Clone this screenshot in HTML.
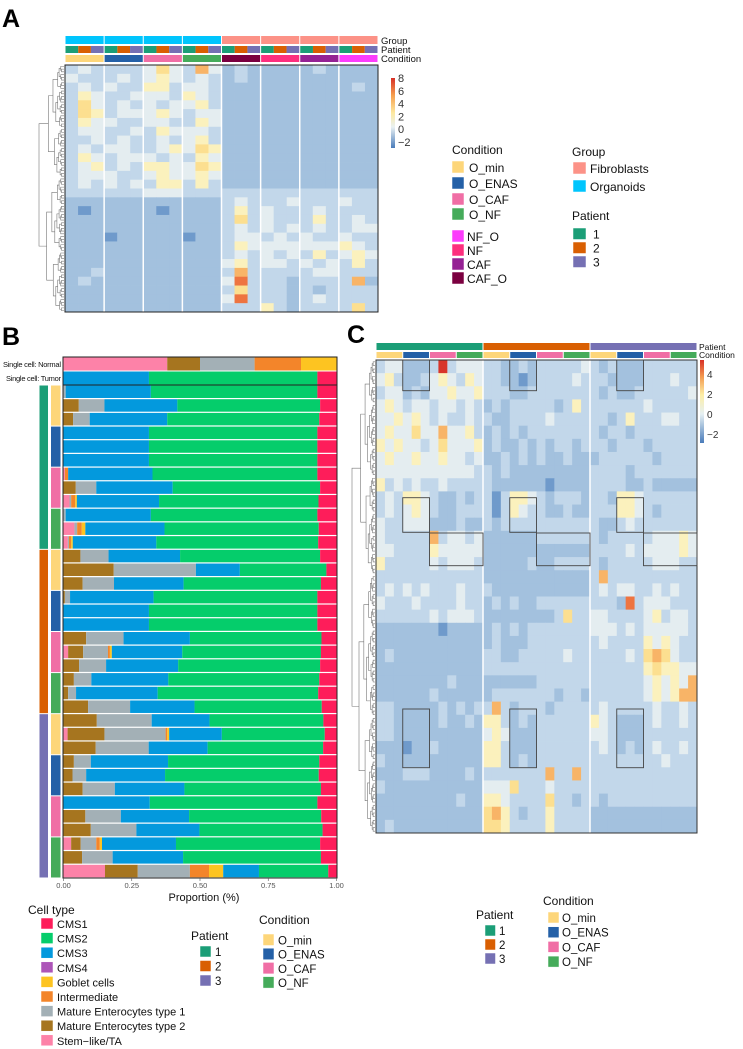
<!DOCTYPE html>
<html><head><meta charset="utf-8">
<style>
html,body{margin:0;padding:0;background:#fff;}
svg{display:block;font-family:"Liberation Sans",sans-serif;}
</style></head>
<body>
<svg id="fig" width="743" height="1049" viewBox="0 0 743 1049" xmlns="http://www.w3.org/2000/svg">
<defs>
<linearGradient id="cbA" x1="0" y1="0" x2="0" y2="1">
<stop offset="0" stop-color="#d73027"/><stop offset="0.25" stop-color="#f6a04f"/><stop offset="0.5" stop-color="#fde9a0"/><stop offset="0.7" stop-color="#e9f1f2"/><stop offset="1" stop-color="#4a7cba"/>
</linearGradient>
<linearGradient id="cbC" x1="0" y1="0" x2="0" y2="1">
<stop offset="0" stop-color="#d73027"/><stop offset="0.2" stop-color="#f39a50"/><stop offset="0.42" stop-color="#fdeea5"/><stop offset="0.65" stop-color="#e6f0f3"/><stop offset="1" stop-color="#4a7cba"/>
</linearGradient>
</defs>
<text x="2" y="27" font-size="25" font-weight="bold">A</text>
<text x="2" y="345" font-size="25" font-weight="bold">B</text>
<text x="347" y="343" font-size="25" font-weight="bold">C</text>
<g id="gA"></g>
<g id="gB"></g>
<g id="gC"></g>
<g id="gL"></g>
</svg>
<script>
// ---------- DATA ----------
const heatAColumns = ["O_min","O_ENAS","O_CAF","O_NF","CAF_O","NF","CAF","NF_O"];
const heatARows = [
"232222353263121111121111",
"322232343232121111111111",
"232322442332111111111121",
"243223332432111111111111",
"253232323342111111111111",
"254233343233111111111111",
"243322332243111111111111",
"233223243332111111111111",
"223232232342111111111111",
"232332234354111111111111",
"243233323243111111111111",
"234232443354111111111111",
"233322343343111111111111",
"232323244242111111111111",
"222222333222222222222222",
"111111111111232223222322",
"101111101111242322232222",
"111111111111252322242232",
"111111111111232323232233",
"111011111011233232322322",
"111111111111243333333432",
"111111111111232323242343",
"111111111111342332323242",
"112111111111262222233222",
"121111111111372221222261",
"111111111111252221212222",
"111111111111372221232222",
"111111111111222421222252"];
const heatCRows = [
"233111282333221121222223212111222222",
"342112343243221101222232221111222322",
"233121334334222112222222212112222223",
"343233233232121222221242222222322222",
"334343232232211222232222221242223322",
"343353363342121212222222212212222222",
"434332353334121121212212221222122222",
"343343343323112121211211122222212222",
"333333333332212111111111222212222222",
"423232232222211111101111222211211111",
"232443211212202443212221221443222222",
"232343211222202432211211222443212222",
"322333111211212222222222211232222222",
"322222623323111111222222212222233343",
"332222433333111111111111222232333343",
"422222323332111112112222212222233322",
"222222222222111111111111262222222222",
"232323222322211111111111232332232322",
"322232222322121211222222222172333222",
"222222323332111111112522332222342332",
"111111101111121212222222333232333332",
"111111111111121112222222232222434322",
"121111111111221122222322222232565322",
"111111111111222222222222222222454433",
"111111112111111111222222222222343436",
"111111211111122222221221222222343466",
"221111121212262122212222232222232232",
"221111121121442121222222432111232232",
"221111111111343111222222332111222222",
"111011211111442111222222232121232232",
"211111111111442121222222222222223222",
"111222111121222222262262222222222222",
"211111111111333522232222222222222222",
"111111111211443222252212212222222222",
"111111111111564212242222111111111111",
"121111111111554222242222111111111111"];
const cellTypes = ["Stem-like/TA","Mature Enterocytes type 2","Mature Enterocytes type 1","Intermediate","Goblet cells","CMS3","CMS2","CMS1"];
const barLabels = ["Single cell: Normal","Single cell: Tumor"];
const cumNormal = [.38,.5,.7,.87,1,1,1,1];
const cumTumor = [0,0,0,0,0,.313,.93,1];
const cumSamples = [
[0,0,.008,.008,.008,.32,.93,1],
[0,.056,.15,.15,.15,.417,.94,1],
[0,.035,.096,.096,.096,.38,.937,1],
[0,0,0,0,0,.313,.93,1],
[0,0,0,0,0,.313,.93,1],
[0,0,0,0,0,.313,.93,1],
[.005,.005,.005,.017,.017,.326,.93,1],
[0,.045,.12,.12,.12,.4,.94,1],
[.022,.022,.028,.043,.049,.35,.934,1],
[0,0,.008,.008,.008,.32,.93,1],
[.04,.04,.05,.067,.08,.37,.935,1],
[.016,.016,.02,.028,.034,.34,.933,1],
[0,.062,.165,.165,.165,.427,.94,1],
[0,.184,.485,.485,.485,.646,.963,1],
[0,.07,.185,.185,.185,.44,.943,1],
[0,.005,.024,.024,.024,.33,.93,1],
[0,0,0,0,0,.313,.93,1],
[0,0,0,0,0,.313,.93,1],
[0,.083,.22,.22,.22,.463,.945,1],
[.017,.072,.163,.17,.177,.435,.943,1],
[0,.057,.156,.156,.156,.42,.94,1],
[0,.038,.102,.102,.102,.384,.937,1],
[0,.017,.046,.046,.046,.345,.933,1],
[0,.09,.244,.244,.244,.48,.946,1],
[0,.122,.323,.323,.323,.535,.952,1],
[.015,.15,.374,.38,.387,.58,.957,1],
[0,.118,.312,.312,.312,.528,.951,1],
[0,.038,.1,.1,.1,.383,.937,1],
[0,.033,.083,.083,.083,.372,.935,1],
[0,.07,.188,.188,.188,.443,.943,1],
[0,0,0,0,0,.316,.93,1],
[0,.08,.21,.21,.21,.46,.944,1],
[0,.1,.267,.267,.267,.498,.949,1],
[.028,.063,.12,.133,.141,.412,.94,1],
[0,.068,.18,.18,.18,.438,.943,1],
[.152,.272,.463,.533,.585,.716,.97,1]];
const xTicks = [0,0.25,0.5,0.75,1];
const xTickLabels = ["0.00","0.25","0.50","0.75","1.00"];
const cbATicks = ["8","6","4","2","0","\u22122"];
const cbCTicks = ["4","2","0","\u22122"];

// ---------- STYLE ----------
const NS="http://www.w3.org/2000/svg";
const cellCol=["#6f9acb","#a3c1de","#c2d7ea","#e4edf0","#fbf1bd","#fcdf90","#f8b467","#ee7440","#d8352a"];
const segCol=["#fd82a8","#a6751f","#a3b0b6","#f3852a","#fdc421","#0399dd","#05cd6b","#fe1d5a"];
const condCol={O_min:"#fdd67a",O_ENAS:"#2460a7",O_CAF:"#f06ea5",O_NF:"#45ab5a",NF_O:"#fc3cfc",NF:"#fd2f7e",CAF:"#952194",CAF_O:"#7b0040"};
const patCol=["#1b9e77","#d95f02","#7570b3"];
function mk(parent,tag,attrs){const e=document.createElementNS(NS,tag);for(const k in attrs)e.setAttribute(k,attrs[k]);parent.appendChild(e);return e;}
function txt(parent,x,y,s,size,attrs){const t=mk(parent,"text",Object.assign({x:x,y:y,"font-size":size,fill:"#111"},attrs||{}));t.textContent=s;return t;}

function dendro(g,y0,y1,n,xLeaf,xRoot){
  function build(lo,hi,d){
    if(hi-lo===1)return {y:y0+(lo+0.5)*(y1-y0)/n,x:xLeaf};
    const f=[0.45,0.55,0.38,0.62,0.5][d%5];
    let m=lo+Math.max(1,Math.min(hi-lo-1,Math.round((hi-lo)*f)));
    const a=build(lo,m,d+1),b=build(m,hi,d+1);
    const x=xLeaf-(xLeaf-xRoot)*Math.pow((hi-lo)/n,0.6);
    mk(g,"path",{d:`M${a.x},${a.y}H${x}V${b.y}H${b.x}`,fill:"none",stroke:"#777","stroke-width":0.6});
    return {y:(a.y+b.y)/2,x:x};
  }
  build(0,n,0);
}

// ---------- PANEL A ----------
(function(){
  const g=document.getElementById("gA");
  const X0=65,X1=378,Y0=65,Y1=312;
  const nb=heatAColumns.length, bw=(X1-X0)/nb;
  const nr=heatARows.length, rh=(Y1-Y0)/nr;
  const ncol=heatARows[0].length, cw=(X1-X0)/ncol;
  heatARows.forEach((row,r)=>{
    for(let c=0;c<ncol;c++){
      const cell=mk(g,"rect",{x:X0+c*cw,y:Y0+r*rh,width:cw+0.4,height:rh+0.4,fill:cellCol[+row[c]]});
      
      
    }
  });
  for(let b=1;b<nb;b++){mk(g,"line",{x1:X0+b*bw,x2:X0+b*bw,y1:Y0,y2:Y1,stroke:"#fff","stroke-width":1.5});}
  mk(g,"rect",{x:X0,y:Y0,width:X1-X0,height:Y1-Y0,fill:"none",stroke:"#222","stroke-width":1,});
  heatAColumns.forEach((cond,b)=>{
    const bx=X0+b*bw+0.5, w=bw-1;
    const gr=mk(g,"rect",{x:bx,y:36,width:w,height:8,fill:b<4?"#00c5fd":"#fc9287"});
    
    for(let p=0;p<3;p++){const pr=mk(g,"rect",{x:bx+p*w/3,y:46,width:w/3,height:7,fill:patCol[p]});
      }
    const cr=mk(g,"rect",{x:bx,y:55,width:w,height:7,fill:condCol[cond]});
    
  });
  txt(g,381,44,"Group",9.5,{});
  txt(g,381,53,"Patient",9.5,{});
  txt(g,381,62,"Condition",9.5,{});
  const dg=mk(g,"g",{});
  dendro(dg,Y0,Y1,90,64,39);
  mk(g,"rect",{x:391,y:78,width:4,height:70,fill:"url(#cbA)",});
  cbATicks.forEach((t,i)=>txt(g,398,82+i*12.8,t,11,{fill:"#333",}));
})();

// ---------- PANEL B ----------
(function(){
  const g=document.getElementById("gB");
  const X0=63.5,W=273;
  const x=v=>X0+v*W;
  function drawRow(cum,y,h,name){
    let prev=0;
    cum.forEach((c,i)=>{
      if(c>prev){const r=mk(g,"rect",{x:x(prev),y:y,width:x(c)-x(prev),height:h,fill:segCol[i]});
        
        }
      prev=c;
    });
  }
  drawRow(cumNormal,357.5,13,"bar-normal");
  drawRow(cumTumor,371.5,13,"bar-tumor");
  const RY=385, RH=(878-385)/cumSamples.length;
  cumSamples.forEach((cum,i)=>drawRow(cum,RY+i*RH+0.5,RH-1.2,"bar-sample-"+(i+1)));
  mk(g,"rect",{x:63,y:357,width:274,height:521,fill:"none",stroke:"#222","stroke-width":1,});
  mk(g,"line",{x1:63,x2:337,y1:385,y2:385,stroke:"#222","stroke-width":1});
  txt(g,61,367,barLabels[0],7.5,{"text-anchor":"end","textLength":58,});
  txt(g,61,381,barLabels[1],7.5,{"text-anchor":"end","textLength":55,});
  const conds=["O_min","O_ENAS","O_CAF","O_NF"];
  for(let p=0;p<3;p++){
    const pr=mk(g,"rect",{x:39.5,y:RY+p*12*RH+0.5,width:8.5,height:12*RH-1,fill:patCol[p]});
    
    for(let c=0;c<4;c++){
      const cr=mk(g,"rect",{x:51,y:RY+(p*12+c*3)*RH+0.5,width:9.5,height:3*RH-1,fill:condCol[conds[c]]});
      
    }
  }
  xTicks.forEach((t,i)=>{
    mk(g,"line",{x1:x(t),x2:x(t),y1:878,y2:881,stroke:"#555","stroke-width":0.6});
    txt(g,x(t),888,xTickLabels[i],7.5,{fill:"#555","text-anchor":"middle",});
  });
  txt(g,204,901,"Proportion (%)",11,{"text-anchor":"middle",});
})();

// ---------- PANEL C ----------
(function(){
  const g=document.getElementById("gC");
  const X0=376,X1=697,Y0=360,Y1=833;
  const nr=heatCRows.length, rh=(Y1-Y0)/nr;
  const ncol=heatCRows[0].length, cw=(X1-X0)/ncol;
  heatCRows.forEach((row,r)=>{
    for(let c=0;c<ncol;c++){
      const cell=mk(g,"rect",{x:X0+c*cw,y:Y0+r*rh,width:cw+0.4,height:rh+0.4,fill:cellCol[+row[c]]});
      
      
    }
  });
  for(let p=1;p<3;p++){mk(g,"line",{x1:X0+p*12*cw,x2:X0+p*12*cw,y1:Y0,y2:Y1,stroke:"#fff","stroke-width":1.5});}
  mk(g,"rect",{x:X0,y:Y0,width:X1-X0,height:Y1-Y0,fill:"none",stroke:"#333","stroke-width":1,});
  const conds=["O_min","O_ENAS","O_CAF","O_NF"];
  for(let p=0;p<3;p++){
    const pr=mk(g,"rect",{x:X0+p*12*cw+0.5,y:343,width:12*cw-1,height:7,fill:patCol[p]});
    
    for(let c=0;c<4;c++){
      const cr=mk(g,"rect",{x:X0+(p*12+c*3)*cw+0.5,y:352,width:3*cw-1,height:6,fill:condCol[conds[c]]});
      
    }
  }
  txt(g,699,350,"Patient",8.5,{});
  txt(g,699,358,"Condition",8.5,{});
  // highlight boxes [colStart, colEnd, yTop, yBottom]
  const boxes=[[3,6,360,390.7],[15,18,360,390.7],[27,30,360,390.7],
    [3,6,497.7,532.3],[15,18,497.7,532.3],[27,30,497.7,532.3],
    [6,12,533,565.7],[18,24,533,565.7],[30,36,533,565.7],
    [3,6,709,767.7],[15,18,709,767.7],[27,30,709,767.7]];
  boxes.forEach(b=>{
    const r=mk(g,"rect",{x:X0+b[0]*cw,y:b[2],width:(b[1]-b[0])*cw,height:b[3]-b[2],fill:"none",stroke:"#444","stroke-width":0.9});
    
  });
  const dg=mk(g,"g",{});
  dendro(dg,Y0,Y1,130,375,352);
  mk(g,"rect",{x:700,y:360,width:4,height:83,fill:"url(#cbC)",});
  cbCTicks.forEach((t,i)=>txt(g,707,378+i*20,t,10,{fill:"#333",}));
})();

// ---------- LEGENDS ----------
(function(){
  const g=document.getElementById("gL");
  function entry(x,y,w,h,col,label,tx,size,name){
    const r=mk(g,"rect",{x:x,y:y,width:w,height:h,fill:col,stroke:"#fff","stroke-width":0.5});
    
    txt(g,tx,y+h-1,label,size,{});
  }
  txt(g,452,154,"Condition",12,{});
  [["O_min",161],["O_ENAS",177],["O_CAF",193],["O_NF",208]].forEach(e=>entry(452,e[1],12,12,condCol[e[0]],e[0],469,12,"legend-a-"+e[0].toLowerCase()));
  [["NF_O",230],["NF",244],["CAF",258],["CAF_O",272]].forEach(e=>entry(452,e[1],12,12,condCol[e[0]],e[0],467,12,"legend-a-"+e[0].toLowerCase()));
  txt(g,572,156,"Group",12,{});
  entry(573,162,13,12,"#fc9287","Fibroblasts",590,12,"legend-a-fibroblasts");
  entry(573,180,13,12,"#00c5fd","Organoids",590,12,"legend-a-organoids");
  txt(g,572,220,"Patient",12,{});
  ["1","2","3"].forEach((p,i)=>entry(573,228+i*14,13,11.5,patCol[i],p,593,12,"legend-a-patient-"+p));
  txt(g,28,914,"Cell type",12,{});
  const ct=[["CMS1","#fe1d5a"],["CMS2","#05cd6b"],["CMS3","#0399dd"],["CMS4","#ad55b8"],["Goblet cells","#fdc421"],["Intermediate","#f3852a"],["Mature Enterocytes type 1","#a3b0b6"],["Mature Enterocytes type 2","#a6751f"],["Stem\u2212like/TA","#fd82a8"]];
  ct.forEach((e,i)=>entry(41,918+i*14.6,12,11,e[1],e[0],57,11,"legend-b-"+e[0].toLowerCase().replace(/[^a-z0-9]+/g,'-')));
  txt(g,191,940,"Patient",12,{});
  ["1","2","3"].forEach((p,i)=>entry(200,946+i*14.5,11,11,patCol[i],p,215,11.5,"legend-b-patient-"+p));
  txt(g,259,924,"Condition",12,{});
  ["O_min","O_ENAS","O_CAF","O_NF"].forEach((c,i)=>entry(263,934+i*14.2,11,11.5,condCol[c],c,278,11.5,"legend-b-"+c.toLowerCase()));
  txt(g,543,905,"Condition",12,{});
  ["O_min","O_ENAS","O_CAF","O_NF"].forEach((c,i)=>entry(548,912+i*14.7,11,11,condCol[c],c,562,11.5,"legend-c-"+c.toLowerCase()));
  txt(g,476,919,"Patient",12,{});
  ["1","2","3"].forEach((p,i)=>entry(485,925+i*14,10.5,11,patCol[i],p,499,11.5,"legend-c-patient-"+p));
})();
</script>
</body></html>
